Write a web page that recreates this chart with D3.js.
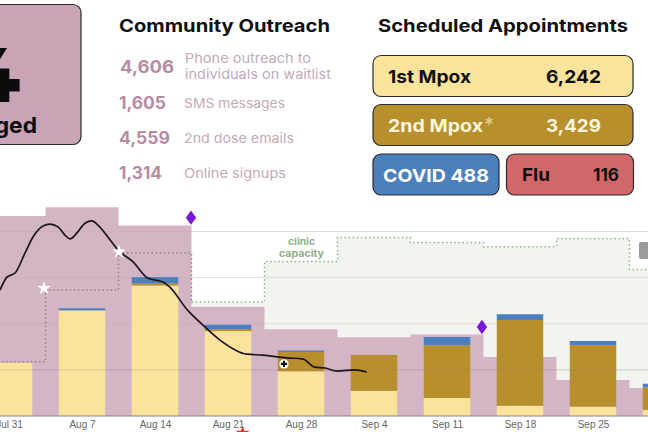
<!DOCTYPE html>
<html>
<head>
<meta charset="utf-8">
<script src="https://cdn.jsdelivr.net/npm/d3@7"></script>
<style>
body { margin: 0; background: #fff; overflow: hidden; }
text { font-family: Inter, "Open Sans", sans-serif; }
.tick text { font-family: "Liberation Sans", sans-serif; }
</style>
</head>
<body>
<svg id="chart" width="648" height="432"></svg>
<script>
var parseDay = d3.timeParse("%Y-%m-%d")
var parseHour = d3.timeParse("%Y-%m-%d %H")

// days after Jul 31 -> date, for things that do not sit on a whole day
var dayOffset = function(days)
{
    return d3.timeMinute.offset(parseDay("2022-07-31"), Math.round(days * 1440))
}

// weekly doses, stacked
var weeks = [
    {week: "2022-07-31", first: 1150, second: 0, covid: 0},
    {week: "2022-08-07", first: 2290, second: 0, covid: 45},
    {week: "2022-08-14", first: 2830, second: 45, covid: 135},
    {week: "2022-08-21", first: 1840, second: 45, covid: 95},
    {week: "2022-08-28", first: 970, second: 420, covid: 30},
    {week: "2022-09-04", first: 545, second: 778, covid: 0},
    {week: "2022-09-11", first: 390, second: 1143, covid: 180},
    {week: "2022-09-18", first: 223, second: 1859, covid: 124},
    {week: "2022-09-25", first: 202, second: 1338, covid: 87},
    {week: "2022-10-02", first: 130, second: 492, covid: 78}
]

// weekly step values: doses on hand (pink) and clinic capacity (dotted)
var supply = [
    {start: "2022-07-20 12", doses: 4338, capacity: 1178},
    {start: "2022-08-03 12", doses: 4527, capacity: 2733},
    {start: "2022-08-10 12", doses: 4132, capacity: 3536},
    {start: "2022-08-17 12", doses: 2371, capacity: 2473},
    {start: "2022-08-24 12", doses: 1881, capacity: 3347},
    {start: "2022-08-31 12", doses: 1707, capacity: 3868},
    {start: "2022-09-07 12", doses: 1768, capacity: 3759},
    {start: "2022-09-14 12", doses: 1280, capacity: 3672},
    {start: "2022-09-21 12", doses: 781, capacity: 3846},
    {start: "2022-09-28 12", doses: 607, capacity: 3174},
    {start: "2022-10-05 12", doses: 607, capacity: 3174}
]

// rolling average line: [days after Jul 31, value]
var rolling = [
    [-0.86, 2730], [-0.2, 3010], [0.58, 3100], [1.53, 3530], [2.3, 3880], [3.26, 4120],
    [3.93, 4160], [4.7, 4100], [5.37, 3920], [5.85, 3840], [6.52, 3970], [7.29, 4180],
    [7.96, 4230], [8.53, 4140], [9.68, 3820], [10.45, 3600], [11.9, 3340], [13.3, 2990],
    [14.8, 2900], [15.4, 2800], [17.1, 2300], [18.6, 1970], [20.2, 1650], [22.8, 1340],
    [24.35, 1320], [26.65, 1260], [28.2, 1235], [29.3, 1060], [30.3, 1040], [31.45, 975],
    [33.2, 1000], [34.3, 955]
]

var svg = d3.select("#chart")

var xScale = d3.scaleTime()
    .domain([parseDay("2022-07-31"), parseDay("2022-09-25")])
    .range([9, 593])
var yScale = d3.scaleLinear()
    .domain([0, 4000])
    .range([416, 231.5])

var barWidth = 46.5

var drawBox = function(x, y, w, h, fill)
{
    svg.append("rect")
        .attr("x", x).attr("y", y)
        .attr("width", w).attr("height", h)
        .attr("rx", 8)
        .attr("fill", fill)
        .attr("stroke", "#2b2b2b")
        .attr("stroke-width", 1.2)
}

// width is given so the narrower installed font fills the same room
var drawText = function(x, y, label, size, weight, color, width, anchor)
{
    var t = svg.append("text")
        .attr("x", x).attr("y", y)
        .attr("font-size", size)
        .attr("font-weight", weight)
        .attr("fill", color)
        .attr("text-anchor", anchor || "start")
        .text(label)
    if (width)
    {
        t.attr("textLength", width).attr("lengthAdjust", "spacingAndGlyphs")
    }
    return t
}

// supply backdrop
var stepData = supply.map(function(d){return {date: parseHour(d.start), doses: d.doses, capacity: d.capacity}})
var stepEnd = d3.curveStepAfter

svg.append("path")
    .datum(stepData)
    .attr("fill", "#f1f4ef")
    .attr("d", d3.area()
        .curve(stepEnd)
        .x(function(d){return xScale(d.date)})
        .y0(function(d){return yScale(d.doses)})
        .y1(function(d){return yScale(Math.max(d.capacity, d.doses))}))

// grid
yScale.ticks(4).forEach(function(t)
{
    if (t == 0) { return }
    svg.append("line")
        .attr("x1", 0).attr("x2", 648)
        .attr("y1", yScale(t)).attr("y2", yScale(t))
        .attr("stroke", "#dcdcdc")
        .attr("stroke-width", 1)
})

svg.append("path")
    .datum(stepData)
    .attr("fill", "#c9a3b6")
    .attr("fill-opacity", 0.8)
    .attr("d", d3.area()
        .curve(stepEnd)
        .x(function(d){return xScale(d.date)})
        .y0(yScale(0))
        .y1(function(d){return yScale(d.doses)}))

// capacity line, grey while it is under the doses and green after
var capacityLine = d3.line()
    .curve(stepEnd)
    .x(function(d){return xScale(d.date)})
    .y(function(d){return yScale(d.capacity)})

svg.append("path")
    .datum(stepData.slice(0, 4))
    .attr("fill", "none")
    .attr("stroke", "#94808c")
    .attr("stroke-width", 1.5)
    .attr("stroke-dasharray", "1.5,2.6")
    .attr("d", capacityLine)
svg.append("path")
    .datum(stepData.slice(3))
    .attr("fill", "none")
    .attr("stroke", "#8db583")
    .attr("stroke-width", 1.5)
    .attr("stroke-dasharray", "1.5,2.6")
    .attr("d", capacityLine)

// stacked bars
var stack = d3.stack().keys(["first", "second", "covid"])
var colors = {first: "#fae49c", second: "#b88f2d", covid: "#4c80bd"}

svg.selectAll(".layer")
    .data(stack(weeks))
    .enter()
    .append("g")
    .attr("class", "layer")
    .attr("fill", function(layer){return colors[layer.key]})
    .selectAll("rect")
    .data(function(layer){return layer})
    .enter()
    .append("rect")
    .attr("x", function(d){return xScale(parseDay(d.data.week)) - barWidth / 2})
    .attr("width", barWidth)
    .attr("y", function(d){return yScale(d[1])})
    .attr("height", function(d){return yScale(d[0]) - yScale(d[1])})

// faint grid line over the pink and gold
svg.append("line")
    .attr("x1", 0).attr("x2", 648)
    .attr("y1", yScale(1000)).attr("y2", yScale(1000))
    .attr("stroke", "#8a6f7d")
    .attr("stroke-opacity", 0.2)

// rolling line
svg.append("path")
    .datum(rolling)
    .attr("fill", "none")
    .attr("stroke", "#1c1418")
    .attr("stroke-width", 1.7)
    .attr("stroke-linejoin", "round")
    .attr("d", d3.line()
        .curve(d3.curveMonotoneX)
        .x(function(d){return xScale(dayOffset(d[0]))})
        .y(function(d){return yScale(d[1])}))

// x axis
var axis = svg.append("g")
    .attr("transform", "translate(0," + yScale(0) + ")")
    .call(d3.axisBottom(xScale)
        .tickValues(weeks.slice(0, 9).map(function(d){return parseDay(d.week)}))
        .tickFormat(d3.timeFormat("%b %-d"))
        .tickSize(0)
        .tickPadding(5))
axis.selectAll("text").attr("font-size", 10).attr("fill", "#666")
axis.select(".domain").remove()
svg.append("line")
    .attr("x1", 0).attr("x2", 648)
    .attr("y1", yScale(0)).attr("y2", yScale(0))
    .attr("stroke", "#8b8289")
    .attr("stroke-width", 1.2)

// markers
var markers = [
    {type: d3.symbolDiamond, day: 17.45, value: 4300, size: 60, fill: "#7a18d6", sx: 1.25},
    {type: d3.symbolDiamond, day: 45.35, value: 1930, size: 60, fill: "#7a18d6", sx: 1.25},
    {type: d3.symbolStar, day: 3.36, value: 2770, size: 60, fill: "#fff", sx: 1},
    {type: d3.symbolStar, day: 10.55, value: 3560, size: 60, fill: "#fff", sx: 1},
    {type: d3.symbolStar, day: 22.4, value: -370, size: 60, fill: "#e0352b", sx: 1}
]
markers.forEach(function(m)
{
    svg.append("path")
        .attr("d", d3.symbol().type(m.type).size(m.size)())
        .attr("fill", m.fill)
        .attr("transform", "translate(" + xScale(dayOffset(m.day)) + "," + yScale(m.value) + ") scale(" + m.sx + ",1)")
})

// plus marker
var plus = svg.append("g")
    .attr("transform", "translate(" + xScale(dayOffset(26.37)) + "," + yScale(1130) + ")")
plus.append("circle").attr("r", 4.6).attr("fill", "#fff")
plus.append("path")
    .attr("d", d3.symbol().type(d3.symbolCross).size(22)())
    .attr("fill", "#1c1418")

drawText(288, 245, "clinic", 9.5, 700, "#8fb083", 27)
drawText(279, 256.5, "capacity", 9.5, 700, "#8fb083", 45)

// legend piece at the right edge
svg.append("rect")
    .attr("x", 639).attr("y", 242)
    .attr("width", 20).attr("height", 17)
    .attr("rx", 2)
    .attr("fill", "#9a9a9a")

// top left box
drawBox(-40, 4.5, 121, 140, "#c9a3b6")
svg.append("path")
    .attr("d", "M-3,48L7,48L-3,64Z")
    .attr("fill", "#0c0c0c")
drawText(3, 102, "+", 56, 900, "#0c0c0c", null, "middle")
    .attr("stroke", "#0c0c0c")
    .attr("stroke-width", 4)
drawText(37, 133, "Engaged", 22, 700, "#0c0c0c", 98, "end")

// community outreach
drawText(119, 32, "Community Outreach", 17.5, 700, "#111", 211)
var outreach = [
    {n: "4,606", y: 73, size: 17.5, x: 120, w: 54, lines: ["Phone outreach to", "individuals on waitlist"], lw: [126, 146]},
    {n: "1,605", y: 109, size: 17, x: 119, w: 47, lines: ["SMS messages"], lw: [101]},
    {n: "4,559", y: 144, size: 17, x: 119, w: 51, lines: ["2nd dose emails"], lw: [110]},
    {n: "1,314", y: 179, size: 17, x: 119, w: 43, lines: ["Online signups"], lw: [102]}
]
outreach.forEach(function(row)
{
    drawText(row.x, row.y, row.n, row.size, 700, "#b88ba2", row.w)
    if (row.lines.length == 2)
    {
        drawText(185, 63, row.lines[0], 13, 400, "#c4a9b7", row.lw[0])
        drawText(185, 79, row.lines[1], 13, 400, "#c4a9b7", row.lw[1])
    }
    else
    {
        drawText(184, row.y - 1.5, row.lines[0], 13, 400, "#c4a9b7", row.lw[0])
    }
})

// scheduled appointments
drawText(378, 32, "Scheduled Appointments", 17.5, 700, "#111", 250)
drawBox(373, 55.5, 260, 41, "#fae49c")
drawBox(373, 104.5, 260, 41, "#b88f2d")
drawBox(373, 154, 126, 41, "#4c80bd")
drawBox(506.5, 154, 127, 41, "#d2676a")
drawText(388, 83, "1st Mpox", 18, 700, "#111", 83)
drawText(546, 83, "6,242", 18, 700, "#111", 55)
drawText(388, 132, "2nd Mpox", 18, 700, "#fff5dc", 95)
drawText(484, 132, "*", 20, 400, "#e6cf8e")
drawText(546, 132, "3,429", 18, 700, "#fff5dc", 55)
drawText(383, 182, "COVID 488", 18, 700, "#fff", 106)
drawText(522, 181, "Flu", 18, 700, "#111", 28)
drawText(593, 181, "116", 18, 700, "#111", 26)
</script>
</body>
</html>
